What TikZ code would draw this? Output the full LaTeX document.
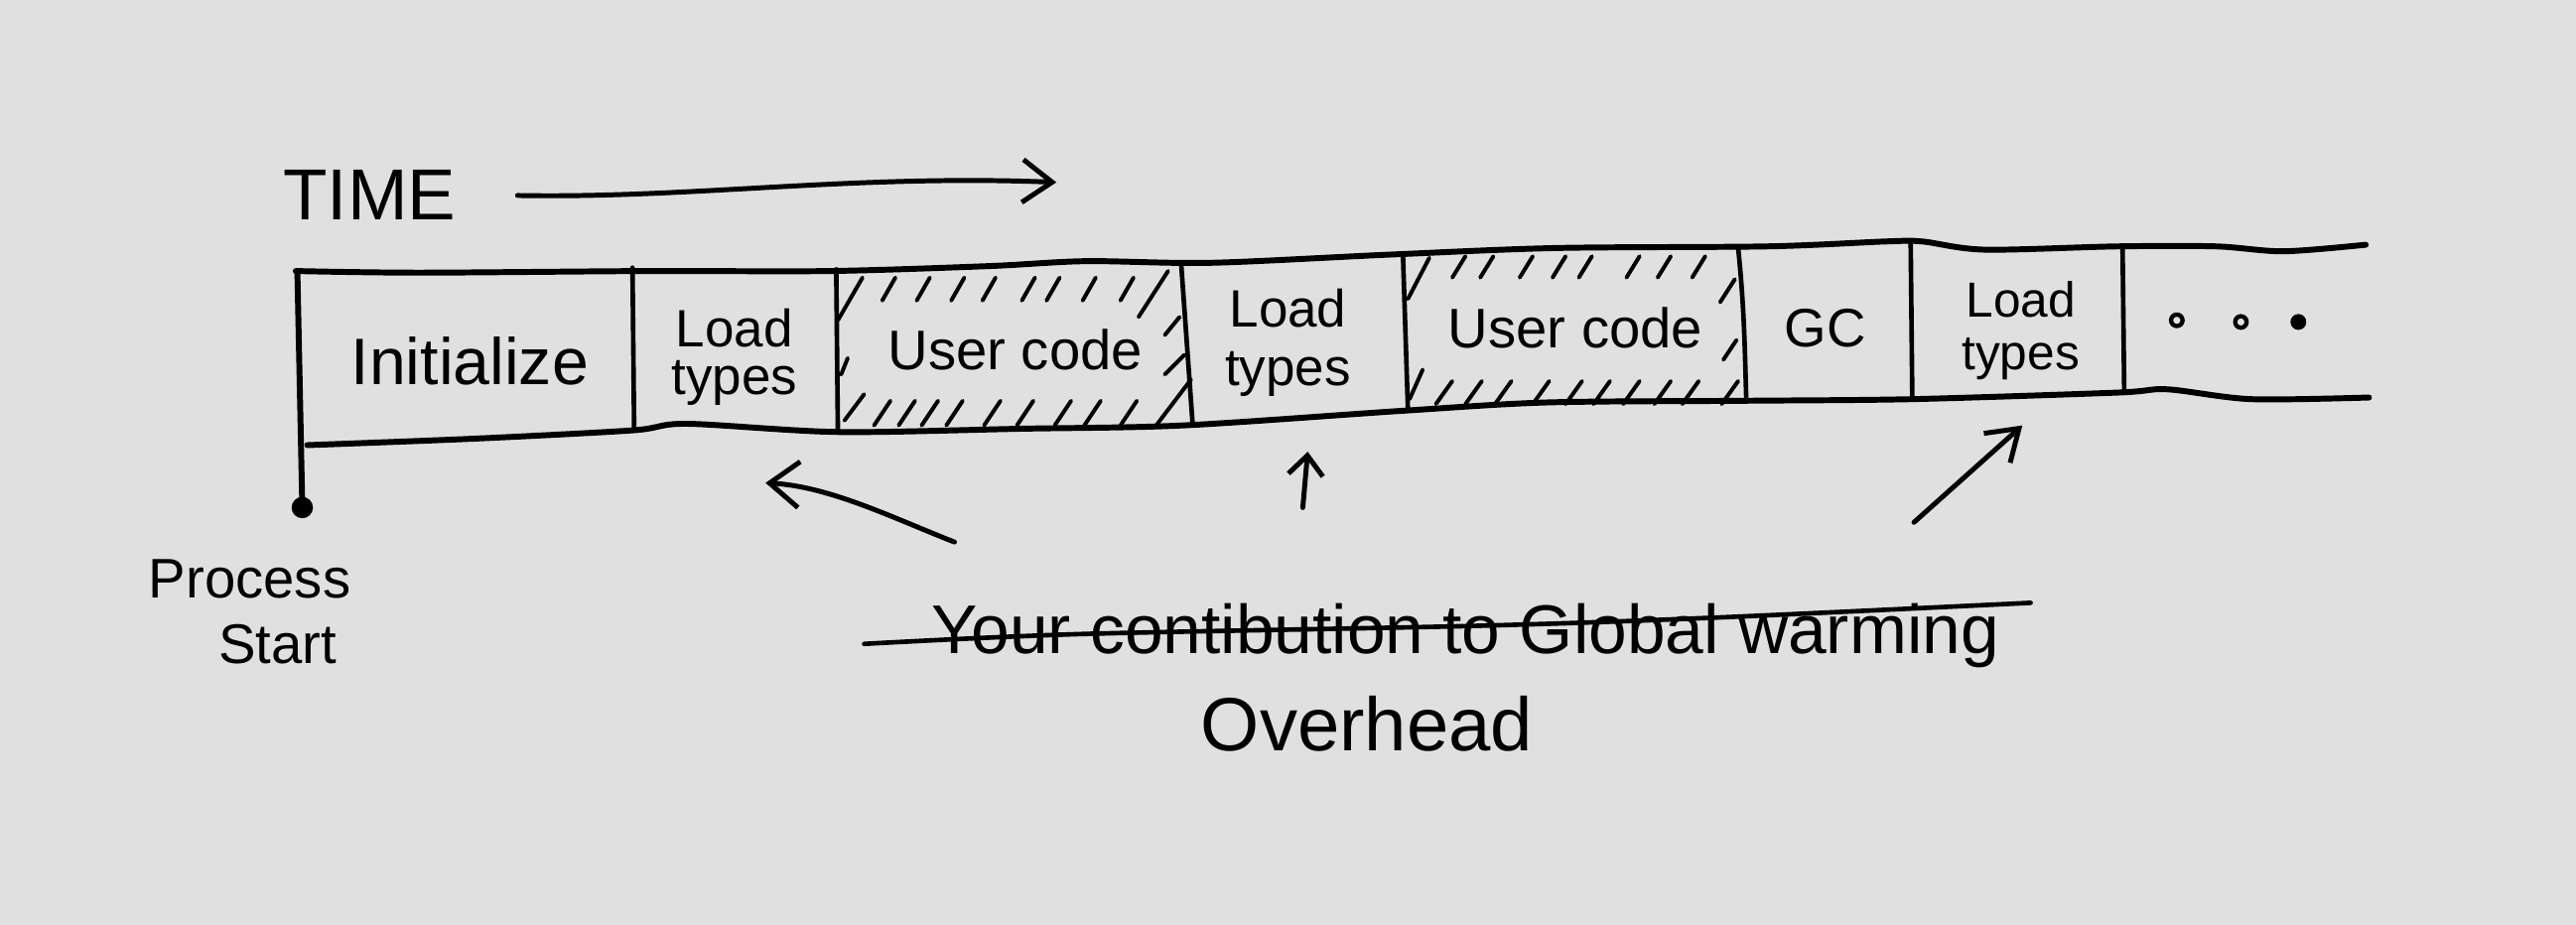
\documentclass[tikz,border=0pt]{standalone}
\usepackage{fontspec}
\setmainfont{Liberation Sans}
\usetikzlibrary{arrows.meta}
\definecolor{paper}{RGB}{224,224,224}
\begin{document}
\begin{tikzpicture}[x=1pt,y=-1pt, line cap=round, line join=round,
  band/.style={line width=3.6pt},
  divider/.style={line width=2.8pt},
  hatch/.style={line width=2.4pt},
  arr/.style={line width=3pt},
  lbl/.style={inner sep=0pt, anchor=base, align=center},
  dotmark/.style={circle, draw, line width=2.6pt, inner sep=0pt, minimum size=7pt},
]
\fill[paper] (0,0) rectangle (1568,563);
\useasboundingbox (0,0) rectangle (1568,563);

% TIME
\node[lbl, font=\fontsize{44}{44}\selectfont] (time) at (225,134) {TIME};
\coordinate (ts) at (315,119);
\coordinate (te) at (643,111);
\draw[arr, -{Straight Barb[length=18pt,width=26pt]}] (ts) .. controls (420,121) and (520,106) .. (te);

% band outline
\draw[band] plot[smooth, tension=0.5] coordinates {(180,165) (255,166) (394,165) (505,165) (602,162) (661,159) (737,160) (846,155) (947,151) (1076,150) (1148,147) (1170,147) (1208,152) (1289,150) (1349,150) (1390,153) (1440,149)};
\draw[band] plot[smooth, tension=0.5] coordinates {(187,271) (290,267) (385,262) (418,258) (510,263) (622,261) (720,259) (855,250) (942,245) (1060,244) (1164,243) (1289,239) (1319,237) (1370,243) (1442,242)};

% process start line and dot
\coordinate (pstop) at (181,165);
\node[circle, fill, inner sep=0pt, minimum size=13pt] (dot) at (184,309) {};
\draw[band] (pstop) -- (dot.center);

% dividers
\draw[divider] (385,163) -- (386,262);
\draw[divider] (509,164) -- (510,263);
\draw[divider] (719,161) -- (726,259);
\draw[divider] (854,156) -- (857,250);
\draw[divider] (1058,151) .. controls (1062,190) and (1062,215) .. (1063,244);
\draw[divider] (1163,148) -- (1164,243);
\draw[divider] (1292,151) -- (1293,239);

% hatching: user code 1
\foreach \x in {541,562,583,602,626,641,663,686}
  \draw[hatch] (\x-4,183) -- (\x+4,169);
\foreach \x in {537,552,566,581,604,624,647,665,687}
  \draw[hatch] (\x-5,259) -- (\x+5,244);
\draw[hatch] (510,195) -- (525,169);
\draw[hatch] (693,193) -- (711,165);
\draw[hatch] (514,256) -- (526,240);
\draw[hatch] (703,260) -- (725,231);
\draw[hatch] (512,228) -- (516,218);
\draw[hatch] (709,204) -- (718,193);
\draw[hatch] (709,228) -- (721,216);

% hatching: user code 2
\foreach \x in {888,905,929,949,965,994,1013,1034}
  \draw[hatch] (\x-4,169) -- (\x+4,156);
\foreach \x in {879,897,915,938,958,975,993,1012,1029,1053}
  \draw[hatch] (\x-5,246) -- (\x+5,232);
\draw[hatch] (857,182) -- (870,157);
\draw[hatch] (858,243) -- (866,225);
\draw[hatch] (1047,184) -- (1056,170);
\draw[hatch] (1049,219) -- (1057,207);

% labels in the band
\node[lbl, font=\fontsize{40}{40}\selectfont] (init) at (286,234) {Initialize};
\node[lbl, font=\fontsize{32}{29}\selectfont] (lt1) at (447,240) {Load\\types};
\node[lbl, font=\fontsize{34}{34}\selectfont] (uc1) at (618,225) {User code};
\node[lbl, font=\fontsize{32}{36}\selectfont] (lt2) at (784,235) {Load\\types};
\node[lbl, font=\fontsize{34}{34}\selectfont] (uc2) at (959,212) {User code};
\node[lbl, font=\fontsize{33}{33}\selectfont] (gc) at (1111,211) {GC};
\node[lbl, font=\fontsize{30}{32}\selectfont] (lt3) at (1230,225) {Load\\types};
\node[dotmark] (e1) at (1325,195) {};
\node[dotmark] (e2) at (1364,196) {};
\node[dotmark, fill] (e3) at (1399,196) {};

% process start
\node[lbl, font=\fontsize{34}{34}\selectfont] (proc) at (152,364) {Process};
\node[lbl, font=\fontsize{34}{34}\selectfont] (start) at (169,404) {Start};

% overhead arrows
\coordinate (a1s) at (581,330);
\coordinate (a1e) at (466,294);
\draw[arr, -{Straight Barb[length=18pt,width=28pt]}] (a1s) .. controls (545,316) and (505,296) .. (a1e);
\coordinate (a2s) at (793,309);
\coordinate (a2e) at (796,275);
\draw[arr, -{Straight Barb[length=12pt,width=21pt]}] (a2s) -- (a2e);
\coordinate (a3s) at (1165,318);
\coordinate (a3e) at (1231,259);
\draw[arr, -{Straight Barb[length=18pt,width=24pt]}] (a3s) -- (a3e);

% crossed-out text and replacement
\node[lbl, font=\fontsize{42}{42}\selectfont] (old) at (892,398) {Your contibution to Global warming};
\draw[line width=2.8pt] plot[smooth, tension=0.5] coordinates {(526,392) (658,386) (899,381) (1044,376) (1236,367)};
\node[lbl, font=\fontsize{46}{46}\selectfont] (over) at (832,457) {Overhead};
\end{tikzpicture}
\end{document}
